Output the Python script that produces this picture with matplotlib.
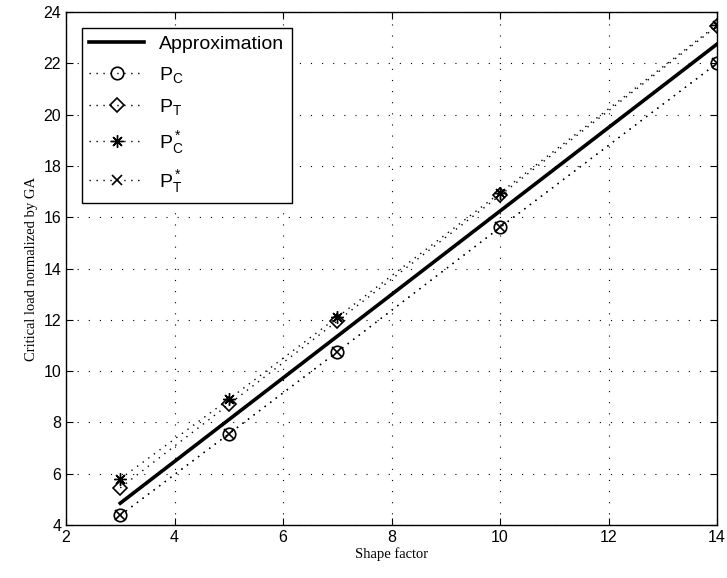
import matplotlib
matplotlib.use('Agg')
import matplotlib.pyplot as plt

# ── fuentes estilo MATLAB ──────────────────────────────
plt.rcParams['font.family'] = ['Liberation Sans', 'DejaVu Sans']
plt.rcParams['mathtext.fontset'] = 'custom'
plt.rcParams['mathtext.rm'] = 'Liberation Sans'
plt.rcParams['mathtext.it'] = 'Liberation Sans'

# ── datos ──────────────────────────────────────────────
shape = [3, 5, 7, 10, 14]
p_c = [4.38, 7.55, 10.75, 15.6, 22.0]
p_t = [5.45, 8.7, 11.95, 16.85, 23.45]
p_c_star = [5.8, 8.9, 12.1, 16.95, 23.5]
p_t_star = [4.38, 7.55, 10.75, 15.6, 22.0]
approx_x = [3, 14]
approx_y = [4.85, 22.75]

fig = plt.figure(figsize=(7.27, 5.78), dpi=100)
ax = fig.add_axes([0.0908, 0.0917, 0.8955, 0.8875])

dots = (0, (1, 4))
ax.plot(approx_x, approx_y, 'k-', linewidth=2.6, label='Approximation')
ax.plot(shape, p_c, color='k', linestyle=dots, marker='o', markersize=9,
        markerfacecolor='none', markeredgewidth=1.2, linewidth=1,
        label=r'$\mathrm{P_C}$')
ax.plot(shape, p_t, color='k', linestyle=dots, marker='D', markersize=7.5,
        markerfacecolor='none', markeredgewidth=1.2, linewidth=1,
        label=r'$\mathrm{P_T}$')
ax.plot(shape, p_c_star, color='k', linestyle=dots, marker=(8, 2, 0),
        markersize=9, markeredgewidth=1.0, linewidth=1,
        label=r'$\mathrm{P_C^*}$')
ax.plot(shape, p_t_star, color='k', linestyle=dots, marker='x',
        markersize=7.5, markeredgewidth=1.2, linewidth=1,
        label=r'$\mathrm{P_T^*}$')

ax.set_xlim(2, 14)
ax.set_ylim(4, 24)
ax.set_xticks(range(2, 15, 2))
ax.set_yticks(range(4, 25, 2))
ax.tick_params(direction='in', top=True, right=True, labelsize=11.5,
               length=5, width=0.8)
ax.grid(True, color='k', linestyle=(0, (1, 9)), linewidth=0.8)
for s in ax.spines.values():
    s.set_linewidth(1.0)

ax.set_xlabel('Shape factor', family=['Liberation Serif'], fontsize=10.5,
              labelpad=2)
ax.set_ylabel('Critical load normalized by GA', family=['Liberation Serif'],
              fontsize=10.5, labelpad=4)

leg = ax.legend(loc='upper left', fontsize=14, fancybox=False,
                edgecolor='k', framealpha=1, borderaxespad=0.8,
                handlelength=2.8, labelspacing=0.62, borderpad=0.4)
leg.get_frame().set_linewidth(1.0)

fig.savefig('out.png', dpi=100)
